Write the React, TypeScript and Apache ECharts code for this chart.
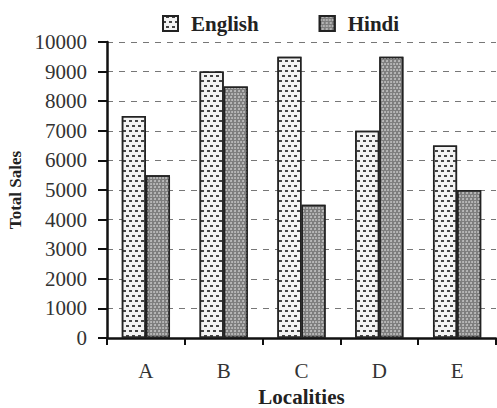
import React, { useEffect, useRef } from "react";
import * as echarts from "echarts";

const categories = ["A", "B", "C", "D", "E"];
const englishSales = [7500, 9000, 9500, 7000, 6500];
const hindiSales = [5500, 8500, 4500, 9500, 5000];
const seriesNames = ["English", "Hindi"];

const FONT = "Liberation Serif";

export default function App() {
  const ref = useRef<HTMLDivElement>(null);
  useEffect(() => {
    document.body.style.margin = "0";
    const chart = echarts.init(ref.current!, undefined, { renderer: "svg" });
    chart.setOption({
      animation: false,
      backgroundColor: "#ffffff",
      aria: { enabled: true, decal: { show: true } },
      legend: {
        top: 8,
        left: 157,
        itemWidth: 15,
        itemHeight: 15,
        itemGap: 60,
        icon: "rect",
        textStyle: {
          fontFamily: FONT,
          fontWeight: "bold",
          fontSize: 21,
          color: "#222",
          padding: [0, 0, 0, 8],
        },
        data: seriesNames,
      },
      grid: { left: 107, right: 1, top: 42, bottom: 70, outerBoundsMode: "none", containLabel: false },
      xAxis: {
        type: "category",
        data: categories,
        name: "Localities",
        nameLocation: "middle",
        nameGap: 48,
        nameTextStyle: { fontFamily: FONT, fontWeight: "bold", fontSize: 21, color: "#222" },
        axisLine: { lineStyle: { color: "#111", width: 2.5 } },
        axisTick: { show: true, length: 7, lineStyle: { color: "#111", width: 2 } },
        axisLabel: { fontFamily: FONT, fontSize: 21, color: "#333", margin: 22 },
      },
      yAxis: {
        type: "value",
        min: 0,
        max: 10000,
        interval: 1000,
        name: "Total Sales",
        nameLocation: "middle",
        nameGap: 80,
        nameTextStyle: { fontFamily: FONT, fontWeight: "bold", fontSize: 17, color: "#222" },
        axisLine: { show: true, lineStyle: { color: "#111", width: 2.5 } },
        axisTick: { show: true, length: 9, lineStyle: { color: "#111", width: 2 } },
        axisLabel: {
          fontFamily: FONT,
          fontSize: 21,
          color: "#333",
          margin: 20,
          formatter: (v: number) => String(v),
        },
        splitLine: { show: true, lineStyle: { color: "#777", type: [6, 6], width: 1.2 } },
      },
      series: [
        {
          name: seriesNames[0],
          type: "bar",
          data: englishSales,
          barGap: "0%",
          barCategoryGap: "38%",
          itemStyle: {
            color: "#f2f2f2",
            borderColor: "#222",
            borderWidth: 1.5,
            decal: {
              symbol: "rect",
              symbolSize: 1,
              dashArrayX: [[3, 3], [0, 3, 3, 0]],
              dashArrayY: [1.5, 3],
              color: "#444",
              rotation: 0,
            },
          },
        },
        {
          name: seriesNames[1],
          type: "bar",
          data: hindiSales,
          itemStyle: {
            color: "#7e7e7e",
            borderColor: "#222",
            borderWidth: 1.5,
            decal: {
              symbol: "circle",
              symbolSize: 0.9,
              dashArrayX: [[2, 1], [0, 1.5, 2, 0]],
              dashArrayY: [2, 1],
              color: "#c8c8c8",
              rotation: 0,
            },
          },
        },
      ],
    });
    return () => chart.dispose();
  }, []);
  return <div ref={ref} style={{ width: 497, height: 408 }} />;
}
